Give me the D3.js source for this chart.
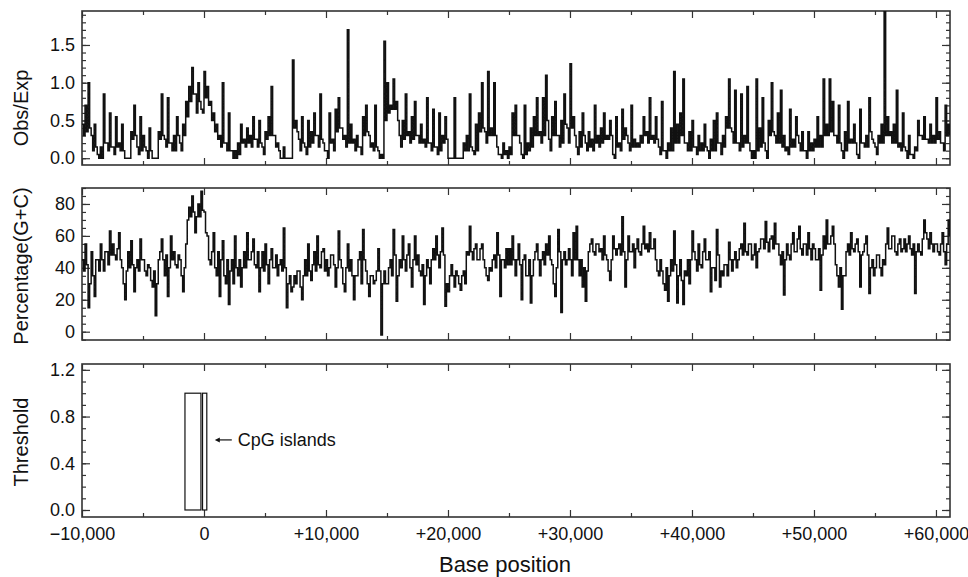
<!DOCTYPE html>
<html>
<head>
<meta charset="utf-8">
<script src="https://cdn.jsdelivr.net/npm/d3@7"></script>
<style>
  body { margin: 0; background: #fff; }
  svg text { font-family: "Liberation Sans", Arial, sans-serif; fill: #111; }
</style>
</head>
<body>
<svg id="chart" width="968" height="577"></svg>
<script>
// sliding windows: first window start and window step (bp)
// each window has a value at its start and one at its midpoint
const windowStart = -10000;
const windowStep = 250;

// CpG observed/expected ratio, value at window start
const obsExp = [
  0.45, 0.7, 1.0, 0.3, 0.45, 0.05, 0.15, 0.85, 0.2, 0.6,
  0.15, 0.55, 0.2, 0.45, 0.0, 0.0, 0.35, 0.7, 0.15, 0.55,
  0.3, 0.1, 0.4, 0.0, 0.0, 0.35, 0.85, 0.25, 0.8, 0.2,
  0.3, 0.55, 0.2, 0.45, 0.75, 0.95, 1.2, 0.85, 1.0, 0.65,
  1.15, 0.95, 0.75, 0.6, 0.45, 0.3, 1.0, 0.2, 0.6, 0.1,
  0.1, 0.2, 0.45, 0.25, 0.4, 0.3, 0.55, 0.25, 0.5, 0.15,
  0.35, 0.55, 0.95, 0.3, 0.2, 0.0, 0.15, 0.0, 0.0, 1.3,
  0.5, 0.25, 0.55, 0.15, 0.5, 0.35, 0.6, 0.3, 0.85, 0.2,
  0.1, 0.6, 0.25, 0.65, 0.8, 0.4, 0.3, 1.7, 0.45, 0.25,
  0.3, 0.15, 0.55, 0.7, 0.3, 0.2, 0.7, 0.1, 0.05, 1.55,
  1.0, 0.7, 1.05, 0.75, 0.3, 0.5, 0.85, 0.35, 0.55, 0.75,
  0.3, 0.45, 0.25, 0.8, 0.2, 0.65, 0.15, 0.6, 0.3, 0.55,
  0.0, 0.0, 0.8, 0.0, 0.0, 0.2, 0.3, 0.85, 0.1, 0.45,
  0.6, 1.0, 0.35, 1.15, 0.4, 1.0, 0.15, 0.05, 0.2, 0.1,
  0.15, 0.6, 0.7, 0.3, 0.05, 0.7, 0.2, 0.4, 0.55, 0.8,
  0.35, 0.8, 1.1, 0.25, 0.55, 0.75, 0.3, 0.5, 0.85, 0.4,
  1.25, 0.55, 0.15, 0.35, 0.6, 0.2, 0.35, 0.25, 0.7, 0.3,
  0.4, 0.6, 0.3, 0.5, 0.05, 0.55, 0.2, 0.65, 0.4, 0.2,
  0.7, 0.25, 0.2, 0.3, 0.55, 0.35, 0.8, 0.3, 0.55, 0.15,
  0.75, 0.1, 0.2, 0.4, 1.15, 0.45, 0.6, 1.05, 0.2, 0.35,
  0.5, 0.15, 0.3, 0.2, 0.45, 0.1, 0.25, 0.5, 0.6, 0.2,
  0.3, 0.55, 1.05, 0.35, 0.9, 0.2, 0.85, 0.3, 0.95, 0.1,
  0.1, 1.05, 0.4, 0.8, 0.1, 0.5, 1.0, 0.3, 0.6, 0.9,
  0.3, 0.15, 0.65, 0.25, 0.55, 0.2, 0.35, 0.1, 0.35, 0.2,
  0.25, 0.55, 0.3, 1.05, 0.45, 1.05, 0.75, 0.3, 0.7, 0.1,
  0.35, 0.75, 0.25, 0.45, 0.05, 0.65, 0.2, 0.3, 0.8, 0.25,
  0.15, 0.3, 0.45, 1.95, 0.55, 0.35, 0.45, 0.9, 0.2, 0.6,
  0.1, 0.3, 0.05, 0.15, 0.5, 0.3, 0.55, 0.25, 0.45, 0.3,
  0.8, 0.35, 0.2, 0.7, 0.45
];

// CpG observed/expected ratio, value at window midpoint
const obsExpMid = [
  0.3, 0.35, 0.4, 0.1, 0.15, 0.0, 0.0, 0.2, 0.1, 0.15,
  0.05, 0.15, 0.1, 0.1, 0.0, 0.0, 0.25, 0.3, 0.05, 0.1,
  0.15, 0.0, 0.1, 0.0, 0.0, 0.25, 0.3, 0.15, 0.2, 0.1,
  0.1, 0.3, 0.1, 0.3, 0.55, 0.75, 0.85, 0.6, 0.75, 0.6,
  0.8, 0.7, 0.5, 0.35, 0.25, 0.15, 0.2, 0.1, 0.1, 0.0,
  0.0, 0.05, 0.2, 0.15, 0.2, 0.15, 0.25, 0.15, 0.2, 0.05,
  0.25, 0.3, 0.3, 0.15, 0.1, 0.0, 0.0, 0.0, 0.0, 0.4,
  0.35, 0.1, 0.2, 0.05, 0.15, 0.2, 0.3, 0.15, 0.25, 0.1,
  0.0, 0.2, 0.1, 0.35, 0.4, 0.25, 0.15, 0.2, 0.2, 0.1,
  0.15, 0.05, 0.3, 0.35, 0.15, 0.1, 0.15, 0.0, 0.0, 0.5,
  0.6, 0.65, 0.65, 0.5, 0.15, 0.25, 0.3, 0.2, 0.25, 0.3,
  0.2, 0.2, 0.15, 0.2, 0.1, 0.15, 0.05, 0.1, 0.2, 0.25,
  0.0, 0.0, 0.0, 0.0, 0.0, 0.1, 0.1, 0.15, 0.05, 0.1,
  0.35, 0.4, 0.2, 0.3, 0.3, 0.3, 0.05, 0.0, 0.05, 0.0,
  0.05, 0.3, 0.3, 0.2, 0.0, 0.05, 0.1, 0.15, 0.3, 0.3,
  0.2, 0.3, 0.5, 0.1, 0.3, 0.3, 0.15, 0.2, 0.45, 0.2,
  0.4, 0.3, 0.05, 0.15, 0.3, 0.1, 0.15, 0.1, 0.2, 0.15,
  0.2, 0.25, 0.25, 0.3, 0.0, 0.15, 0.1, 0.25, 0.3, 0.1,
  0.15, 0.15, 0.15, 0.2, 0.3, 0.2, 0.25, 0.2, 0.25, 0.05,
  0.1, 0.0, 0.1, 0.1, 0.2, 0.2, 0.3, 0.2, 0.1, 0.1,
  0.15, 0.05, 0.1, 0.1, 0.15, 0.0, 0.1, 0.1, 0.2, 0.05,
  0.15, 0.4, 0.4, 0.2, 0.2, 0.1, 0.15, 0.2, 0.2, 0.0,
  0.0, 0.1, 0.15, 0.2, 0.0, 0.3, 0.35, 0.2, 0.2, 0.15,
  0.1, 0.05, 0.15, 0.15, 0.3, 0.1, 0.1, 0.0, 0.1, 0.1,
  0.15, 0.15, 0.15, 0.3, 0.3, 0.35, 0.3, 0.2, 0.2, 0.0,
  0.1, 0.2, 0.2, 0.2, 0.0, 0.2, 0.15, 0.15, 0.35, 0.2,
  0.05, 0.2, 0.2, 0.3, 0.3, 0.2, 0.2, 0.15, 0.1, 0.15,
  0.0, 0.05, 0.0, 0.1, 0.3, 0.25, 0.25, 0.2, 0.2, 0.2,
  0.25, 0.2, 0.1, 0.3, 0.3
];

// G+C percentage, value at window start
const gcPercent = [
  45, 55, 15, 50, 22, 45, 55, 38, 50, 63,
  55, 45, 62, 40, 20, 50, 57, 25, 45, 58,
  45, 35, 40, 28, 10, 45, 58, 35, 22, 60,
  50, 40, 45, 25, 55, 78, 85, 62, 80, 88,
  75, 60, 42, 62, 35, 22, 57, 30, 17, 45,
  60, 35, 28, 50, 62, 45, 58, 40, 25, 50,
  55, 30, 52, 40, 35, 45, 65, 15, 35, 28,
  30, 38, 20, 45, 55, 32, 50, 60, 40, 52,
  45, 40, 48, 28, 63, 40, 25, 55, 45, 20,
  35, 50, 64, 38, 22, 35, 32, 52, -2, 38,
  30, 45, 64, 19, 45, 60, 38, 55, 28, 60,
  48, 35, 17, 45, 30, 52, 60, 40, 65, 16,
  25, 42, 28, 35, 26, 38, 50, 66, 45, 55,
  45, 55, 40, 32, 38, 48, 62, 22, 45, 52,
  52, 60, 35, 55, 20, 48, 35, 18, 45, 55,
  35, 50, 55, 60, 42, 22, 64, 12, 50, 45,
  45, 62, 66, 35, 28, 19, 50, 58, 48, 55,
  52, 60, 45, 32, 60, 48, 55, 72, 28, 60,
  50, 40, 58, 48, 66, 55, 62, 52, 45, 35,
  38, 26, 19, 45, 63, 18, 45, 17, 35, 30,
  63, 45, 55, 40, 58, 45, 25, 40, 64, 28,
  35, 42, 56, 38, 50, 45, 55, 68, 48, 55,
  48, 40, 52, 58, 69, 50, 60, 68, 55, 42,
  23, 55, 45, 62, 50, 66, 48, 55, 62, 45,
  52, 45, 26, 60, 70, 55, 66, 42, 28, 14,
  35, 55, 62, 50, 58, 28, 50, 60, 24, 45,
  40, 48, 35, 42, 65, 52, 60, 48, 58, 52,
  50, 60, 48, 24, 55, 48, 70, 58, 62, 50,
  55, 48, 62, 42, 70
];

// G+C percentage, value at window midpoint
const gcPercentMid = [
  38, 42, 30, 35, 45, 38, 45, 50, 42, 48,
  48, 52, 45, 30, 38, 40, 42, 40, 38, 45,
  38, 42, 32, 38, 30, 50, 45, 48, 40, 45,
  42, 48, 35, 40, 70, 72, 75, 72, 72, 76,
  62, 45, 50, 40, 50, 45, 35, 45, 38, 30,
  40, 45, 40, 40, 45, 50, 42, 50, 40, 38,
  42, 45, 40, 48, 42, 38, 40, 30, 25, 35,
  38, 28, 35, 35, 38, 42, 38, 42, 50, 38,
  35, 48, 42, 40, 45, 30, 40, 38, 35, 35,
  45, 30, 45, 30, 35, 30, 38, 38, 30, 30,
  40, 35, 48, 35, 40, 45, 48, 40, 45, 42,
  38, 42, 35, 40, 45, 45, 48, 50, 48, 30,
  35, 35, 38, 30, 35, 30, 48, 50, 52, 45,
  52, 45, 35, 40, 45, 40, 48, 45, 40, 42,
  42, 45, 45, 42, 45, 35, 45, 35, 50, 45,
  45, 42, 48, 45, 30, 40, 50, 45, 42, 52,
  35, 45, 45, 45, 40, 38, 55, 50, 55, 50,
  45, 48, 38, 45, 52, 52, 48, 50, 45, 50,
  55, 52, 50, 55, 52, 50, 52, 58, 38, 45,
  30, 40, 35, 38, 42, 35, 32, 38, 45, 45,
  50, 38, 42, 50, 45, 50, 40, 32, 48, 38,
  42, 35, 45, 45, 40, 52, 48, 50, 55, 45,
  55, 50, 58, 52, 56, 58, 52, 55, 48, 50,
  45, 48, 55, 50, 58, 52, 55, 48, 52, 55,
  45, 52, 48, 52, 55, 60, 55, 35, 40, 35,
  50, 48, 52, 55, 50, 48, 55, 48, 40, 35,
  48, 40, 45, 55, 52, 60, 50, 55, 50, 58,
  55, 52, 55, 50, 50, 58, 62, 52, 55, 55,
  50, 55, 50, 55, 60
];

// detected CpG islands [start, end] and the threshold level drawn for them
const cpgIslands = [[-1560, -250], [-120, 230]];
const islandLevel = 1.0;

const xTicks = [-10000, 0, 10000, 20000, 30000, 40000, 50000, 60000];
const xTickLabels = ["\u221210,000", "0", "+10,000", "+20,000", "+30,000", "+40,000", "+50,000", "+60,000"];
const obsTicks = [0, 0.5, 1.0, 1.5];
const gcTicks = [0, 20, 40, 60, 80];
const thrTicks = [0, 0.4, 0.8, 1.2];

const svg = d3.select("#chart");
const left = 82, right = 950;

var x = d3.scaleLinear().domain([-10000, 61150]).range([left, right]);

var panels = [
  {top: 11, bottom: 165, domain: [-0.09, 1.95], ticks: obsTicks, minor: 0.1, fmt: d3.format(".1f"), label: "Obs/Exp", labelY: 108},
  {top: 188, bottom: 340, domain: [-5.2, 90], ticks: gcTicks, minor: 5, fmt: d3.format("d"), label: "Percentage(G+C)", labelY: 266},
  {top: 364, bottom: 517, domain: [-0.06, 1.25], ticks: thrTicks, minor: 0.1, fmt: d3.format(".1f"), label: "Threshold", labelY: 442}
];

panels.forEach((p, i) => {
  p.y = d3.scaleLinear().domain(p.domain).range([p.bottom, p.top]);
  var g = svg.append("g").attr("class", "panel" + i);

  g.append("clipPath").attr("id", "clip" + i)
    .append("rect").attr("x", left).attr("y", p.top).attr("width", right - left).attr("height", p.bottom - p.top);

  var minorVals = d3.range(p.domain[0], p.domain[1], p.minor)
    .map(v => Math.round(Math.ceil(v / p.minor) * p.minor * 1000) / 1000)
    .filter(v => v >= p.domain[0] && v <= p.domain[1]);

  // y axes, ticks pointing inward
  g.append("g").attr("transform", `translate(${left},0)`)
    .call(d3.axisLeft(p.y).tickValues(minorVals).tickSize(-4).tickFormat(""))
    .call(a => a.select(".domain").remove());
  g.append("g").attr("transform", `translate(${left},0)`)
    .call(d3.axisLeft(p.y).tickValues(p.ticks).tickSize(-8).tickPadding(7).tickFormat(p.fmt))
    .call(a => a.select(".domain").remove())
    .selectAll("text").attr("font-size", "18px");
  g.append("g").attr("transform", `translate(${right},0)`)
    .call(d3.axisRight(p.y).tickValues(minorVals).tickSize(-4).tickFormat(""))
    .call(a => a.select(".domain").remove());
  g.append("g").attr("transform", `translate(${right},0)`)
    .call(d3.axisRight(p.y).tickValues(p.ticks).tickSize(-8).tickFormat(""))
    .call(a => a.select(".domain").remove());

  // x ticks top and bottom
  var halfTicks = d3.range(-5000, 61000, 10000);
  [["bottom", p.bottom, d3.axisBottom], ["top", p.top, d3.axisTop]].forEach(([side, yy, ax]) => {
    g.append("g").attr("transform", `translate(0,${yy})`)
      .call(ax(x).tickValues(halfTicks).tickSize(-4).tickFormat(""))
      .call(a => a.select(".domain").remove());
    var major = g.append("g").attr("transform", `translate(0,${yy})`)
      .call(ax(x).tickValues(xTicks).tickSize(-7).tickPadding(10)
        .tickFormat((d, k) => (i === 2 && side === "bottom") ? xTickLabels[k] : ""))
      .call(a => a.select(".domain").remove());
    major.selectAll("text").attr("font-size", "18px");
  });

  g.selectAll(".tick line").attr("stroke", "#333").attr("stroke-width", 1.2);

  g.append("rect").attr("x", left).attr("y", p.top)
    .attr("width", right - left).attr("height", p.bottom - p.top)
    .attr("fill", "none").attr("stroke", "#333").attr("stroke-width", 1.6);

  g.append("text")
    .attr("transform", `translate(28,${p.labelY}) rotate(-90)`)
    .attr("text-anchor", "middle").attr("font-size", "20px")
    .text(p.label);
});

// traces: start value then midpoint value for every window
function traceData(startVals, midVals) {
  var pts = [];
  startVals.forEach((v, k) => {
    var pos = windowStart + k * windowStep;
    pts.push([pos, v]);
    if (midVals[k] !== undefined) pts.push([pos + windowStep / 2, midVals[k]]);
  });
  return pts;
}

[[obsExp, obsExpMid, 0], [gcPercent, gcPercentMid, 1]].forEach(([vals, mids, i]) => {
  var p = panels[i];
  var line = d3.line()
    .x(d => x(d[0]))
    .y(d => p.y(d[1]))
    .curve(d3.curveStepAfter);
  svg.append("path")
    .attr("clip-path", `url(#clip${i})`)
    .attr("d", line(traceData(vals, mids)))
    .attr("fill", "none").attr("stroke", "#111").attr("stroke-width", 1.5);
});

// CpG island boxes
var pt = panels[2];
svg.append("g").selectAll("rect").data(cpgIslands).join("rect")
  .attr("x", d => x(d[0]))
  .attr("y", pt.y(islandLevel))
  .attr("width", d => x(d[1]) - x(d[0]))
  .attr("height", d => pt.y(0) - pt.y(islandLevel))
  .attr("fill", "none").attr("stroke", "#111").attr("stroke-width", 1.2);

// annotation
var annY = pt.y(0.6);
var arrowX0 = x(cpgIslands[1][1]) + 8;
svg.append("line").attr("x1", arrowX0 + 2).attr("x2", arrowX0 + 17).attr("y1", annY).attr("y2", annY)
  .attr("stroke", "#111").attr("stroke-width", 1.2);
svg.append("path")
  .attr("d", `M${arrowX0},${annY} l5,-2.5 l0,5 z`)
  .attr("fill", "#111");
svg.append("text").attr("x", arrowX0 + 23).attr("y", annY).attr("dy", "0.35em")
  .attr("font-size", "18px").text("CpG islands");

svg.append("text").attr("x", 505).attr("y", 564).attr("dy", "0.35em")
  .attr("text-anchor", "middle").attr("font-size", "22px").text("Base position");
</script>
</body>
</html>
